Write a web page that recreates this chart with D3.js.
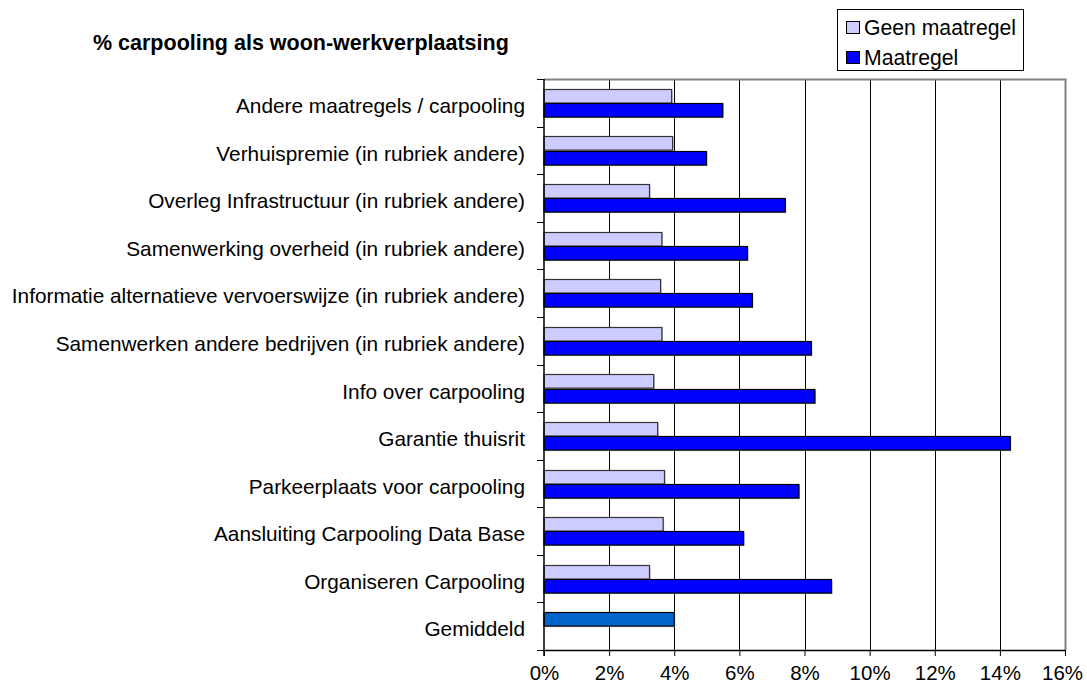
<!DOCTYPE html>
<html>
  <head>
    <meta charset="utf-8" />
    <script src="https://d3js.org/d3.v7.min.js"></script>
    <style>
      body { margin: 0; background: #fff; }
      svg text { font-family: "Liberation Sans", Arial, sans-serif; fill: #000; }
    </style>
  </head>
  <body>
    <svg id="chart"></svg>
    <script>
      // Data
      var categories = [
        "Andere maatregels / carpooling",
        "Verhuispremie (in rubriek andere)",
        "Overleg Infrastructuur (in rubriek andere)",
        "Samenwerking overheid (in rubriek andere)",
        "Informatie alternatieve vervoerswijze (in rubriek andere)",
        "Samenwerken andere bedrijven (in rubriek andere)",
        "Info over carpooling",
        "Garantie thuisrit",
        "Parkeerplaats voor carpooling",
        "Aansluiting Carpooling Data Base",
        "Organiseren Carpooling",
        "Gemiddeld"
      ];
      var geenMaatregel = [3.92, 3.95, 3.24, 3.62, 3.58, 3.62, 3.37, 3.49, 3.70, 3.66, 3.24, 4.0];
      var maatregel = [5.49, 4.99, 7.41, 6.25, 6.40, 8.21, 8.32, 14.32, 7.83, 6.13, 8.83, null];
      var seriesNames = ["Geen maatregel", "Maatregel"];
      var xTicks = [0, 2, 4, 6, 8, 10, 12, 14, 16];

      var width = 1087, height = 685;
      var plotLeft = 544, plotRight = 1065, plotTop = 79, plotBottom = 650;

      var svg = d3.select("#chart").attr("width", width).attr("height", height);

      var x = d3.scaleLinear().domain([0, 16]).range([plotLeft, plotRight]);
      var y = d3.scaleBand().domain(categories).range([plotTop, plotBottom]);
      var sub = d3.scaleBand().domain(seriesNames).range([0, y.bandwidth()]).paddingOuter(0.7).paddingInner(0.04);

      // gridlines
      svg.append("g")
        .selectAll("line")
        .data(xTicks.slice(1, -1))
        .join("line")
        .attr("x1", (d) => Math.round(x(d)) + 0.5)
        .attr("x2", (d) => Math.round(x(d)) + 0.5)
        .attr("y1", plotTop)
        .attr("y2", plotBottom)
        .attr("stroke", "#000")
        .attr("stroke-width", 1);

      // plot border top/right (gray)
      svg.append("path")
        .attr("d", `M${plotLeft},${plotTop + 0.5}H${plotRight + 0.5}V${plotBottom}`)
        .attr("fill", "none")
        .attr("stroke", "#808080")
        .attr("stroke-width", 2);

      var colorLight = "#CCCCFF", colorDark = "#0000FF", colorAvg = "#0066CC";

      var bars = svg.append("g");
      categories.forEach(function (c, i) {
        var vals = [geenMaatregel[i], maatregel[i]];
        vals.forEach(function (v, j) {
          if (v == null) return;
          var fill = j === 0 ? colorLight : colorDark;
          if (c === "Gemiddeld") fill = colorAvg;
          var by = Math.round(y(c) + sub(seriesNames[j]));
          // shadow
          bars.append("rect")
            .attr("x", x(0) + 1)
            .attr("y", by + 1.5)
            .attr("width", x(v) - x(0))
            .attr("height", sub.bandwidth())
            .attr("fill", "#c0c0c0");
          bars.append("rect")
            .attr("x", x(0))
            .attr("y", by + 0.5)
            .attr("width", x(v) - x(0))
            .attr("height", sub.bandwidth())
            .attr("fill", fill)
            .attr("stroke", j === 0 && c !== "Gemiddeld" ? "#333" : "#000")
            .attr("stroke-width", 1.2);
        });
      });

      // x axis
      var xAxis = d3.axisBottom(x)
        .tickValues(xTicks)
        .tickFormat((d) => d + "%")
        .tickSize(6)
        .tickPadding(9);
      var gx = svg.append("g").attr("transform", `translate(0,${plotBottom})`).call(xAxis);
      gx.select(".domain").attr("stroke", "#000").attr("stroke-width", 1.5).attr("d", `M${plotLeft},0.5H${plotRight}`);
      gx.selectAll(".tick line").attr("stroke", "#000");
      gx.selectAll(".tick text")
        .style("font-size", "20.5px")
        .style("font-family", "Liberation Sans, Arial, sans-serif")
        .attr("dx", (d) => (d === 16 ? "-3" : "0"));

      // y axis with ticks between categories
      svg.append("line")
        .attr("x1", plotLeft).attr("x2", plotLeft)
        .attr("y1", plotTop).attr("y2", plotBottom + 6)
        .attr("stroke", "#000").attr("stroke-width", 1.5);
      var bounds = d3.range(categories.length + 1).map((k) => plotTop + k * y.step());
      svg.append("g")
        .selectAll("line")
        .data(bounds)
        .join("line")
        .attr("x1", plotLeft - 7).attr("x2", plotLeft)
        .attr("y1", (d) => Math.round(d) + 0.5).attr("y2", (d) => Math.round(d) + 0.5)
        .attr("stroke", "#000");

      svg.append("g")
        .selectAll("text")
        .data(categories)
        .join("text")
        .attr("x", plotLeft - 19)
        .attr("y", (d) => y(d) + y.bandwidth() / 2 + 3)
        .attr("dy", "0.35em")
        .attr("text-anchor", "end")
        .style("font-size", "20.8px")
        .text((d) => d);

      // title
      svg.append("text")
        .attr("x", 93)
        .attr("y", 50)
        .style("font-size", "21.5px")
        .style("font-weight", "bold")
        .text("% carpooling als woon-werkverplaatsing");

      // legend
      var lg = svg.append("g").attr("transform", "translate(837,9)");
      lg.append("rect")
        .attr("x", 0.5).attr("y", 0.5)
        .attr("width", 186).attr("height", 61)
        .attr("fill", "#fff").attr("stroke", "#000");
      seriesNames.forEach(function (s, i) {
        var row = lg.append("g").attr("transform", `translate(9,${12 + i * 30})`);
        row.append("rect")
          .attr("x", 0.5).attr("y", 0.5)
          .attr("width", 13).attr("height", 12)
          .attr("fill", i === 0 ? colorLight : colorDark)
          .attr("stroke", "#000");
        row.append("text")
          .attr("x", 18)
          .attr("y", 7)
          .attr("dy", "0.35em")
          .style("font-size", "21.2px")
          .text(s);
      });
    </script>
  </body>
</html>
